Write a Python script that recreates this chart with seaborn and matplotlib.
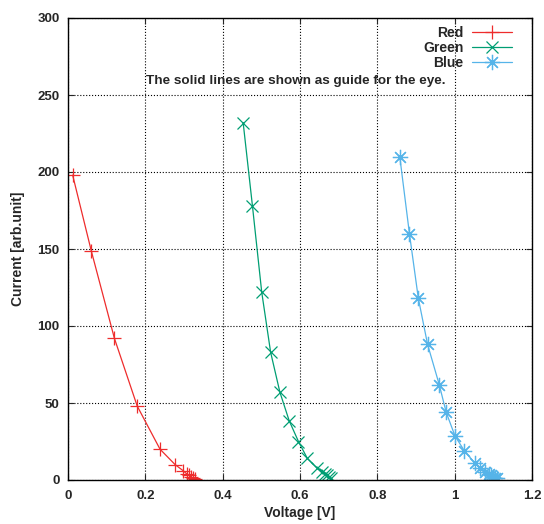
import numpy as np
import pandas as pd
import matplotlib
matplotlib.use("Agg")
import matplotlib.pyplot as plt
import seaborn as sns

# data
red_v = [0.012, 0.060, 0.120, 0.179, 0.238, 0.277, 0.298, 0.307, 0.313, 0.318, 0.323, 0.328]
red_i = [198, 149, 92, 48, 20, 10, 6, 4, 3, 2, 1, 0.5]

green_v = [0.453, 0.477, 0.501, 0.524, 0.548, 0.572, 0.596, 0.619, 0.645, 0.657, 0.664, 0.670, 0.675, 0.680]
green_i = [232, 178, 122, 83, 57, 38.5, 25, 14, 7.5, 5, 4, 3, 2, 1]

blue_v = [0.858, 0.883, 0.906, 0.930, 0.960, 0.978, 1.001, 1.025, 1.052, 1.065, 1.078, 1.088, 1.095, 1.100, 1.105, 1.110]
blue_i = [210, 160, 118, 88, 62, 44, 28.5, 19, 11, 8, 5.5, 4, 3, 2, 1.5, 1]

xticks = [0, 0.2, 0.4, 0.6, 0.8, 1.0, 1.2]
xticklabels = ["0", "0.2", "0.4", "0.6", "0.8", "1", "1.2"]
yticks = [0, 50, 100, 150, 200, 250, 300]

sns.set_style("ticks")
plt.rcParams['font.family'] = ['Liberation Sans', 'DejaVu Sans']
plt.rcParams['font.weight'] = 'bold'

fig = plt.figure(figsize=(5.44, 5.24), dpi=100)
ax = fig.add_axes([68 / 544, 1 - 480 / 524, (532 - 68) / 544, (480 - 18) / 524])

series = [
    ("Red", red_v, red_i, "#ee2c2c", "+", 10),
    ("Green", green_v, green_i, "#009e73", "x", 8),
    ("Blue", blue_v, blue_i, "#56b4e9", (8, 2, 0), 11),
]
for name, v, i, col, mk, ms in series:
    df = pd.DataFrame({"Voltage": v, "Current": i})
    sns.lineplot(data=df, x="Voltage", y="Current", sort=False, ax=ax,
                 color=col, marker=mk, markersize=ms, markeredgewidth=0.9,
                 markeredgecolor=col, linewidth=0.9, label=name)

ax.set_xlim(0, 1.2)
ax.set_ylim(0, 300)
ax.set_xticks(xticks)
ax.set_xticklabels(xticklabels)
ax.set_yticks(yticks)
ax.grid(True, color="black", linestyle=":", linewidth=0.8)
ax.tick_params(direction="in", top=True, right=True, labelsize=9.5, length=4)
ax.tick_params(axis="x", pad=7)
ax.tick_params(axis="y", pad=6)
for s in ax.spines.values():
    s.set_color("black")
    s.set_linewidth(1.0)

ax.set_xlabel("Voltage [V]", fontsize=10, fontweight="bold", labelpad=3)
ax.set_ylabel("Current [arb.unit]", fontsize=10, fontweight="bold", labelpad=9)
ax.text(0.59, 259, "The solid lines are shown as guide for the eye.",
        ha="center", va="center", fontsize=9.7, fontweight="bold")

leg = ax.legend(loc="upper right", bbox_to_anchor=(0.975, 1.0), frameon=False,
                markerfirst=False, prop={"size": 10, "weight": "bold"},
                handlelength=2.9, labelspacing=0.06,
                borderaxespad=0.2, handletextpad=0.6)

fig.savefig("out.png", dpi=100)
